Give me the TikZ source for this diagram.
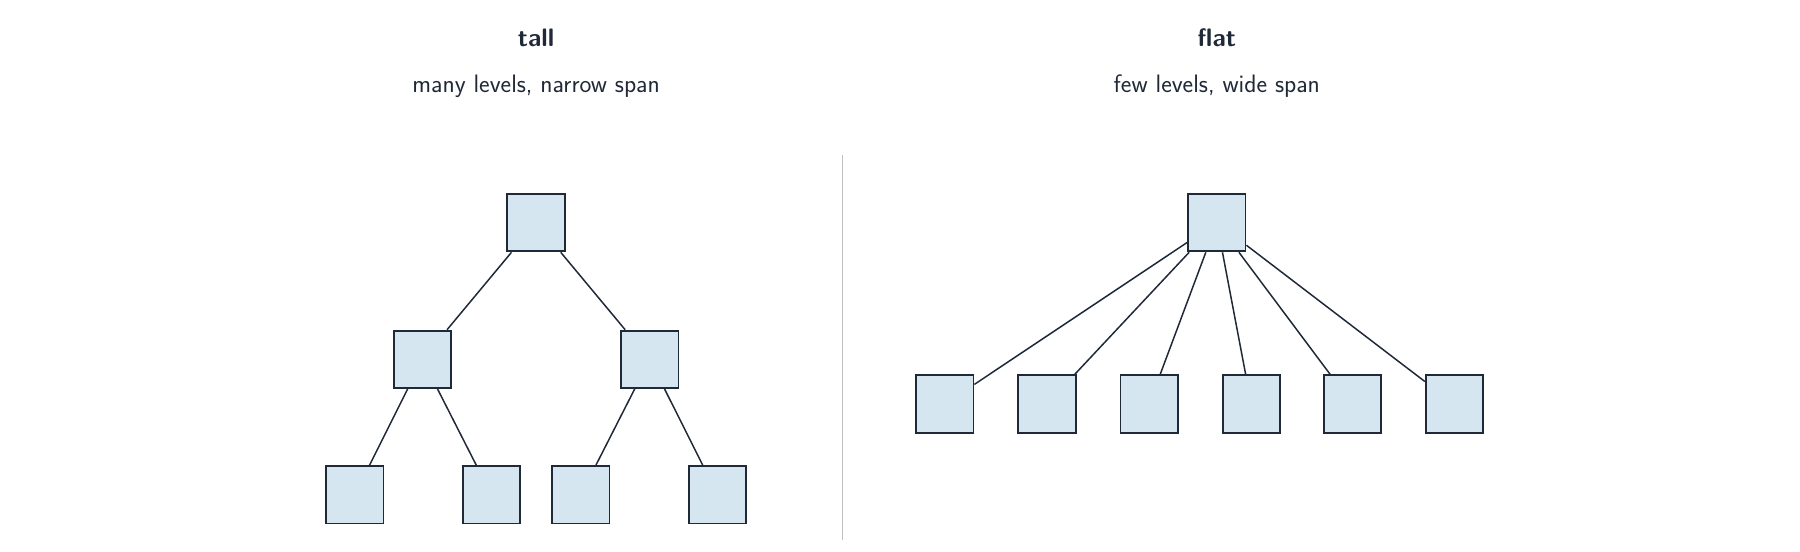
\documentclass[tikz,border=0pt]{standalone}
\usepackage{fontspec}
\begin{document}
\begin{tikzpicture}[x=1pt,y=-1pt,
  box/.style={draw=ink,fill=boxfill,line width=1.6pt,minimum size=50pt,inner sep=0pt},
  edge/.style={draw=ink,line width=1.3pt},
  ttl/.style={text=ink,font=\sffamily\bfseries\fontsize{22}{26}\selectfont},
  sub/.style={text=ink,font=\sffamily\fontsize{22}{26}\selectfont}]
\definecolor{ink}{HTML}{1F2937}
\definecolor{boxfill}{HTML}{D6E6F0}
\useasboundingbox (0,0) rectangle (1568,480);
\node[ttl] (t1) at (467,33) {tall};
\node[sub] (s1) at (467,75) {many levels, narrow span};
\node[ttl] (t2) at (1060,33) {flat};
\node[sub] (s2) at (1060,75) {few levels, wide span};
\coordinate (d1) at (734,135);
\coordinate (d2) at (734,470);
\draw[gray!50,line width=1.2pt] (d1) -- (d2);
\node[box] (r) at (467,194) {};
\node[box] (a) at (368,313) {};
\node[box] (b) at (566,313) {};
\node[box] (a1) at (309,431) {};
\node[box] (a2) at (428,431) {};
\node[box] (b1) at (506,431) {};
\node[box] (b2) at (625,431) {};
\draw[edge] (r) -- (a); \draw[edge] (r) -- (b);
\draw[edge] (a) -- (a1); \draw[edge] (a) -- (a2);
\draw[edge] (b) -- (b1); \draw[edge] (b) -- (b2);
\node[box] (f) at (1060,194) {};
\foreach \x [count=\i] in {823,912,1001,1090,1178,1267}{
  \node[box] (l\i) at (\x,352) {};
  \draw[edge] (f) -- (l\i);
}
\end{tikzpicture}
\end{document}
